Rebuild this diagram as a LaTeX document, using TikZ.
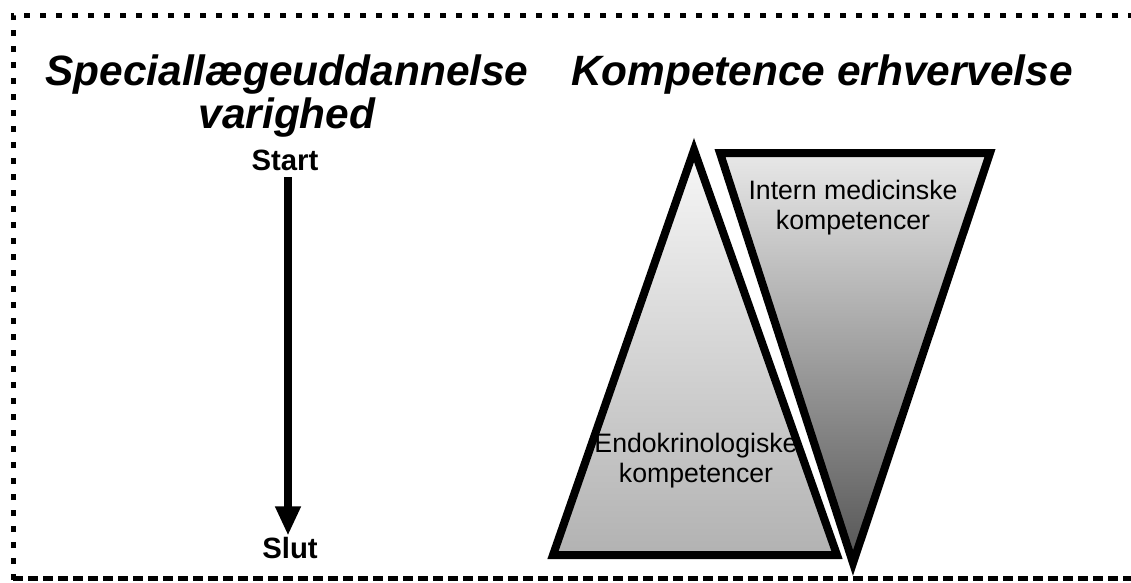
\documentclass[tikz,border=0pt]{standalone}
\usepackage{fontspec}
\setmainfont{Liberation Sans}
\usetikzlibrary{arrows.meta}
\definecolor{color_tri_light}{HTML}{F7F7F7}
\definecolor{color_tri_mid}{HTML}{B2B2B2}
\definecolor{color_inv_light}{HTML}{E8E8E8}
\definecolor{color_inv_dark}{HTML}{545454}
\def\frameborderwidth{3.75pt}
\def\triborderwidth{6pt}
\def\titlesize{\fontsize{31.8}{32}\selectfont\bfseries\itshape}
\def\endpointsize{\fontsize{22}{24}\selectfont\bfseries}
\def\compsize{\fontsize{20}{22.5}\selectfont}
\tikzset{
    titletext/.style={align=center,inner sep=0pt,font=\titlesize},
    endpointtext/.style={inner sep=1pt,font=\endpointsize},
    comptext/.style={align=center,inner sep=0pt,font=\compsize},
    dotframe/.style={line width=\frameborderwidth,dash pattern=on 4.5pt off 7.5pt},
    dashframe/.style={line width=\frameborderwidth,dash pattern=on 7.5pt off 3.75pt}
}

\begin{document}
\begin{tikzpicture}[x=0.75pt,y=-0.75pt]
        \useasboundingbox (0,0) rectangle (1131,582);
        % frame
        \draw[dotframe] (13,1140) -- (13,15) -- (1140,15);
        \draw[dashframe] (13,578) -- (1140,578);
        % headings
        \node[titletext] (title_varighed) at (287,96) {Speciallægeuddannelse\\varighed};
        \node[titletext] (title_kompetence) at (822,75) {Kompetence erhvervelse};
        % time axis
        \node[endpointtext] (start) at (285,160) {Start};
        \node[endpointtext] (slut) at (290,548) {Slut};
        \draw[line width=6pt,-{Triangle[width=18pt,length=22pt]},shorten <=4pt] (start.south -| 288,0) -- (slut.north -| 288,0);
        % competence triangles
        \shadedraw[top color=color_tri_light,bottom color=color_tri_mid,line width=\triborderwidth]
            (694,150) -- (837,555) -- (553,555) -- cycle;
        \shadedraw[top color=color_inv_light,bottom color=color_inv_dark,line width=\triborderwidth]
            (720,153) -- (990,153) -- (853,563) -- cycle;
        \node[comptext] (intern) at (853,208) {Intern medicinske\\kompetencer};
        \node[comptext] (endo) at (696,461) {Endokrinologiske\\kompetencer};
    \end{tikzpicture}
\end{document}
